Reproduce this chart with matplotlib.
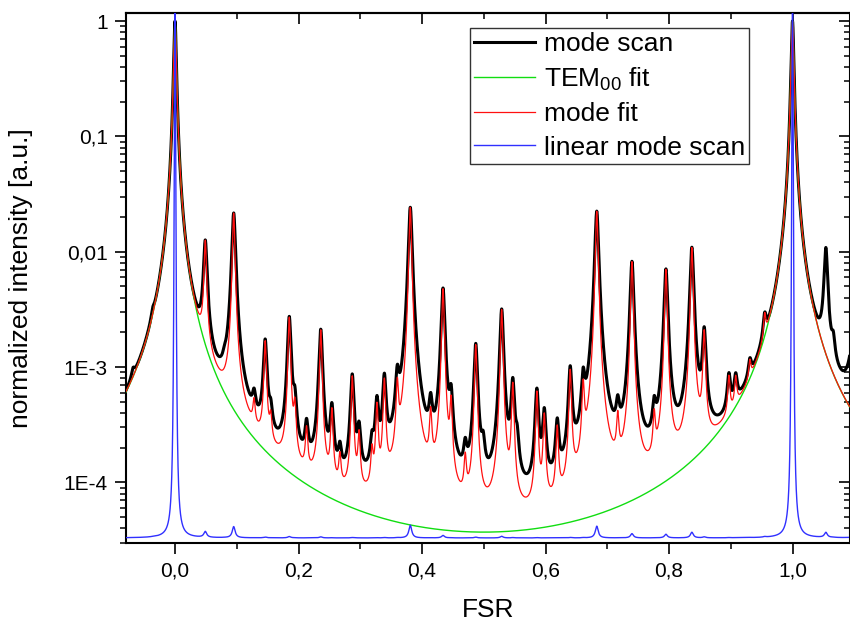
import numpy as np
import matplotlib
matplotlib.use("Agg")
import matplotlib.pyplot as plt
from matplotlib.ticker import FixedLocator, FixedFormatter, LogLocator, NullFormatter, MultipleLocator

plt.rcParams['font.family'] = ['Liberation Sans', 'DejaVu Sans']
plt.rcParams['mathtext.fontset'] = 'custom'
plt.rcParams['mathtext.rm'] = 'Liberation Sans'
plt.rcParams['mathtext.default'] = 'regular'

# ---------------- data ----------------
# TEM00 Airy fit (coefficient of finesse)
tem00_F = 27000.0
# higher order modes of the fit: positions (FSR) and amplitudes
mode_pos = [0.049, 0.095, 0.128, 0.146, 0.155, 0.185, 0.194, 0.213, 0.236, 0.254,
            0.267, 0.287, 0.298, 0.319, 0.327, 0.339, 0.360, 0.381, 0.414, 0.434,
            0.447, 0.470, 0.487, 0.529, 0.547, 0.586, 0.598, 0.619, 0.640, 0.661,
            0.683, 0.717, 0.740, 0.776, 0.795, 0.837, 0.857, 0.897, 0.908, 0.931,
            0.955]
mode_amp = [1.1e-2, 2.12e-2, 2.0e-4, 1.45e-3, 1.5e-4, 2.55e-3, 3.0e-4, 1.7e-4, 2.0e-3, 3.3e-4,
            8e-5, 7.5e-4, 1.8e-4, 1.0e-4, 3.8e-4, 6.8e-4, 5.5e-4, 2.42e-2, 2.8e-4, 4.7e-3,
            4.0e-4, 9e-5, 1.5e-3, 3.1e-3, 6.5e-4, 5.5e-4, 3.2e-4, 2.3e-4, 8.5e-4, 5.5e-4,
            2.24e-2, 2.2e-4, 8.1e-3, 2.3e-4, 6.9e-3, 1.07e-2, 1.8e-3, 4.5e-4, 3.6e-4, 3.5e-4,
            1.1e-3]
# features only present in the measured scan
scan_extra_pos = [-0.068, -0.036, 0.080, 0.499, 0.554, 1.054, 1.066, 1.106]
scan_extra_amp = [1.5e-4, 4.0e-4, 1.5e-4, 1.0e-4, 1.2e-4, 9.5e-3, 6.0e-4, 1.8e-2]
fit_hwhm = 0.00193
scan_hwhm = 0.0028

xticks_major = [0.0, 0.2, 0.4, 0.6, 0.8, 1.0]
xtick_labels = ["0,0", "0,2", "0,4", "0,6", "0,8", "1,0"]
yticks_major = [1e-4, 1e-3, 1e-2, 1e-1, 1.0]
ytick_labels = ["1E-4", "1E-3", "0,01", "0,1", "1"]
legend_labels = ["mode scan", "TEM$_{00}$ fit", "mode fit", "linear mode scan"]

# ---------------- curves ----------------
x = np.linspace(-0.0794, 1.0923, 14001)
tem00 = 1.0 / (1.0 + tem00_F * np.sin(np.pi * x) ** 2)

def lorentz_sum(pos, amp, hw):
    out = np.zeros_like(x)
    for p, a in zip(pos, amp):
        out += a / (1.0 + ((x - p) / hw) ** 2)
    return out

mode_fit = tem00 + lorentz_sum(mode_pos, mode_amp, fit_hwhm)
mode_scan = tem00 + lorentz_sum(mode_pos, mode_amp, scan_hwhm) \
    + lorentz_sum(scan_extra_pos, scan_extra_amp, scan_hwhm)

# ---------------- figure ----------------
W, H = 850, 624
fig = plt.figure(figsize=(W / 100, H / 100), dpi=100)
L, R, T, B = 126, 849.5, 13, 543
ax = fig.add_axes([L / W, 1 - B / H, (R - L) / W, (B - T) / H])

l1, = ax.plot(x, mode_scan, color='black', lw=2.2, zorder=2)
l2, = ax.plot(x, tem00, color='#11dd11', lw=1.0, zorder=3)
l3, = ax.plot(x, mode_fit, color='#ff1010', lw=0.9, zorder=4)

ax.set_yscale('log')
ax.set_xlim(-0.0794, 1.0923)
ax.set_ylim(2.98e-5, 1.175)

ax2 = ax.twinx()
l4, = ax2.plot(x, mode_scan, color='#3030ff', lw=1.0)
ax2.set_ylim(-0.0096, 1.0)
ax2.set_yticks([])
for s in ax2.spines.values():
    s.set_visible(False)

for s in ax.spines.values():
    s.set_linewidth(1.5)

ax.xaxis.set_major_locator(FixedLocator(xticks_major))
ax.xaxis.set_major_formatter(FixedFormatter(xtick_labels))
ax.xaxis.set_minor_locator(MultipleLocator(0.1))
ax.yaxis.set_major_locator(FixedLocator(yticks_major))
ax.yaxis.set_major_formatter(FixedFormatter(ytick_labels))
ax.yaxis.set_minor_locator(LogLocator(base=10, subs=np.arange(2, 10)))
ax.yaxis.set_minor_formatter(NullFormatter())
ax.tick_params(which='major', direction='out', length=8, width=1.2, labelsize=15, pad=5)
ax.tick_params(which='minor', direction='out', length=4.5, width=1.1)

secx = ax.secondary_xaxis('top')
secx.xaxis.set_major_locator(FixedLocator(xticks_major))
secx.xaxis.set_minor_locator(MultipleLocator(0.1))
secx.tick_params(which='major', direction='in', length=8, width=1.2, labeltop=False)
secx.tick_params(which='minor', direction='in', length=4.5, width=1.1)
secx.spines['top'].set_linewidth(1.5)

secy = ax.secondary_yaxis('right')
secy.yaxis.set_major_locator(FixedLocator(yticks_major))
secy.yaxis.set_minor_locator(LogLocator(base=10, subs=np.arange(2, 10)))
secy.yaxis.set_minor_formatter(NullFormatter())
secy.tick_params(which='major', direction='in', length=8, width=1.2, labelright=False)
secy.tick_params(which='minor', direction='in', length=4.5, width=1.1)

ax.set_xlabel("FSR", fontsize=19, labelpad=13)
ax.set_ylabel("normalized intensity [a.u.]", fontsize=19, labelpad=22)

lx = (470 - L) / (R - L)
ly = 1 - (28 - T) / (B - T)
leg = ax2.legend([l1, l2, l3, l4], legend_labels, loc='upper left', bbox_to_anchor=(lx, ly),
                 fontsize=19, frameon=True, fancybox=False, borderpad=0.15, labelspacing=0.36,
                 handlelength=2.3, handletextpad=0.35, borderaxespad=0.0, framealpha=1)
leg.get_frame().set_edgecolor('#333333')
leg.get_frame().set_linewidth(1.0)

fig.savefig("out.png", dpi=100)
